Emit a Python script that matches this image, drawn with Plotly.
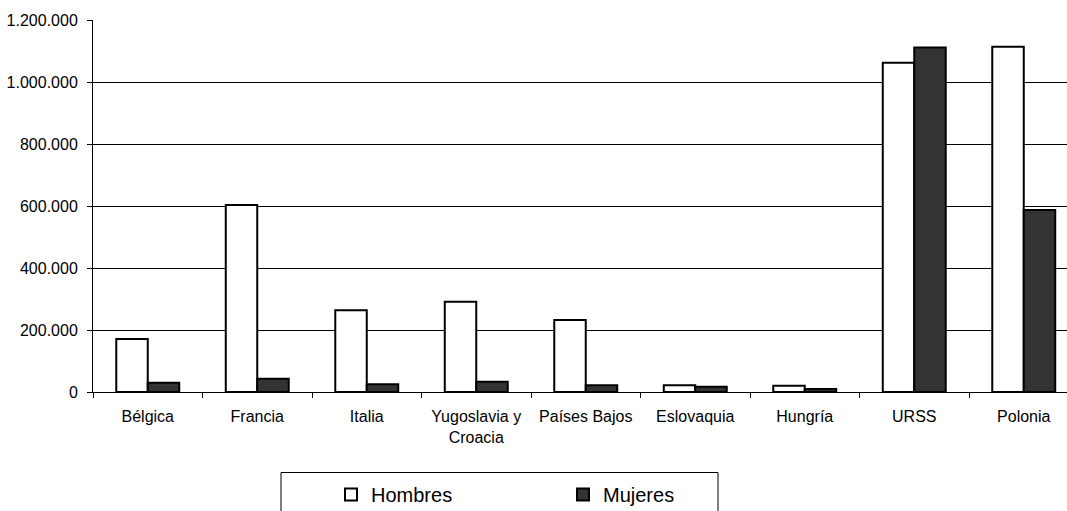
import plotly.graph_objects as go

# Categories and values (persons)
paises = ["Bélgica", "Francia", "Italia", "Yugoslavia y<br>Croacia", "Países Bajos",
          "Eslovaquia", "Hungría", "URSS", "Polonia"]
hombres = [171000, 603000, 264000, 291000, 232000, 22000, 20000, 1062000, 1114000]
mujeres = [30000, 43000, 25000, 33000, 22000, 17000, 10000, 1111000, 587000]
y_ticks = [0, 200000, 400000, 600000, 800000, 1000000, 1200000]

W, H = 1067, 511
ML, MR, MT, MB = 93, 0, 20, 119
plot_w = W - ML - MR
plot_h = H - MT - MB
cat_px = 109.5  # width of one category slot in pixels


def px_x(p):
    return (p - ML) / plot_w


def px_y(p):
    return (H - MB - p) / plot_h


FONT = "Liberation Sans, Arial, sans-serif"

fig = go.Figure()
fig.add_trace(go.Bar(
    name="Hombres", x=paises, y=hombres,
    marker=dict(color="#ffffff", line=dict(color="#000000", width=2)),
))
fig.add_trace(go.Bar(
    name="Mujeres", x=paises, y=mujeres,
    marker=dict(color="#333333", line=dict(color="#000000", width=2)),
))

# legend frame
fig.add_shape(type="rect", xref="paper", yref="paper",
              x0=px_x(281), x1=px_x(718), y0=px_y(530), y1=px_y(472.5),
              line=dict(color="#000000", width=1), fillcolor="rgba(0,0,0,0)")

fig.update_layout(
    width=W, height=H,
    margin=dict(l=ML, r=MR, t=MT, b=MB, pad=0, autoexpand=False),
    paper_bgcolor="#ffffff", plot_bgcolor="#ffffff",
    barmode="group", bargap=0.425, bargroupgap=0,
    separators=",.",
    font=dict(family=FONT, size=16, color="#000000"),
    showlegend=True,
    legend=dict(
        orientation="h", xref="container", yref="container",
        x=331 / W, xanchor="left",
        y=1 - 475 / H, yanchor="top",
        borderwidth=0, bgcolor="rgba(0,0,0,0)",
        font=dict(family=FONT, size=20, color="#000000"),
        entrywidth=187, entrywidthmode="pixels",
        itemwidth=30,
    ),
    xaxis=dict(
        type="category", automargin=False,
        range=[-0.5, -0.5 + plot_w / cat_px],
        showline=True, linecolor="#000000", linewidth=1,
        ticks="outside", tickson="boundaries", ticklen=5,
        tickcolor="#000000", tickwidth=1,
        showgrid=False,
        ticklabelstandoff=10,
        tickfont=dict(family=FONT, size=16, color="#000000"),
    ),
    yaxis=dict(
        range=[0, 1200000], automargin=False,
        tickvals=y_ticks, tickformat=",d",
        showline=True, linecolor="#000000", linewidth=1,
        ticks="outside", ticklen=5, tickcolor="#000000", tickwidth=1,
        showgrid=True, gridcolor="#000000", gridwidth=1,
        zeroline=False,
        ticklabelstandoff=6,
        tickfont=dict(family=FONT, size=16, color="#000000"),
    ),
)

fig.write_html("out.html")
